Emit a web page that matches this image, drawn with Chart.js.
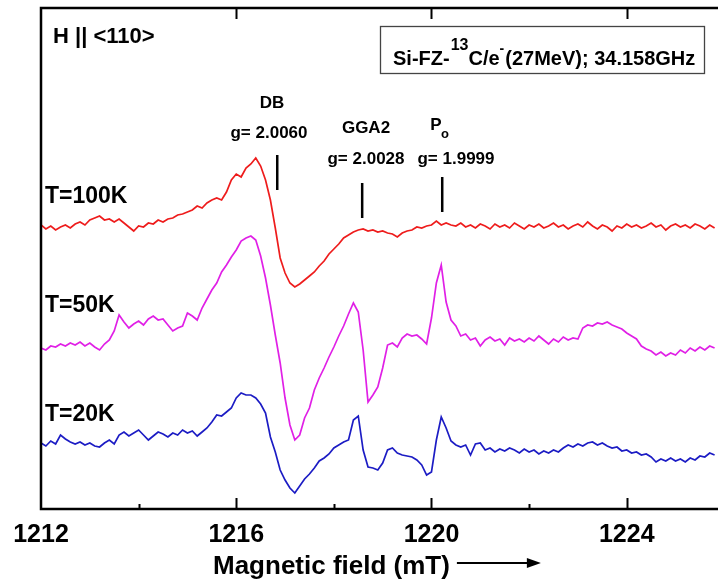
<!DOCTYPE html>
<html>
<head>
<meta charset="utf-8">
<title>EPR spectra Si-FZ-13C</title>
<script src="https://cdn.jsdelivr.net/npm/chart.js@4.4.1/dist/chart.umd.min.js"></script>
<style>
  html, body { margin: 0; padding: 0; background: #fff; }
  #wrap { width: 718px; height: 581px; overflow: hidden; }
</style>
</head>
<body>
<div id="wrap"><canvas id="epr" width="718" height="581"></canvas></div>
<script>
// magnetic field sampling (mT), one reading every 0.1 mT
const fieldStart = 1212;
const fieldStep = 0.1;

// signal (a.u.), each trace already offset vertically
const t100K = [
  284, 280, 283, 279, 282, 284, 281, 285, 287, 284,
  289, 291, 293, 289, 290, 287, 290, 286, 282, 278,
  283, 282, 286, 285, 289, 287, 290, 291, 294, 295,
  297, 299, 303, 301, 306, 309, 311, 309, 317, 329,
  335, 332, 341, 345, 351, 343, 329, 309, 281, 251,
  236, 226, 222, 225, 229, 233, 237, 243, 248, 255,
  260, 265, 271, 274, 277, 279, 280, 278, 279, 277,
  278, 276, 275, 272, 276, 278, 279, 282, 281, 283,
  284, 288, 284, 286, 284, 283, 286, 282, 284, 281,
  285, 283, 280, 285, 282, 284, 281, 286, 283, 280,
  284, 282, 285, 281, 283, 286, 282, 284, 280, 283,
  285, 282, 287, 283, 280, 284, 282, 278, 283, 281,
  285, 282, 284, 281, 283, 286, 282, 284, 279, 283,
  285, 282, 284, 281, 285, 283, 280, 284, 281,
];
const t50K = [
  161, 159, 163, 162, 165, 163, 166, 164, 167, 163,
  166, 162, 159, 165, 169, 178, 194, 187, 181, 185,
  188, 184, 190, 193, 189, 190, 184, 178, 181, 183,
  196, 193, 189, 201, 210, 219, 226, 237, 244, 252,
  259, 268, 271, 273, 269, 253, 231, 204, 174, 146,
  111, 84, 69, 74, 91, 101, 119, 131, 141, 152,
  162, 173, 183, 195, 206, 197, 159, 107, 114, 122,
  141, 164, 166, 162, 171, 175, 173, 174, 170, 165,
  191, 226, 244, 207, 189, 183, 173, 175, 169, 171,
  163, 169, 172, 168, 170, 164, 171, 168, 170, 167,
  171, 168, 173, 169, 165, 170, 167, 172, 169, 171,
  170, 181, 184, 183, 186, 185, 187, 184, 182, 180,
  176, 173, 170, 163, 160, 158, 154, 157, 153, 156,
  154, 159, 156, 161, 158, 162, 159, 163, 161,
];
const t20K = [
  66, 63, 68, 65, 74, 70, 67, 65, 67, 64,
  66, 63, 62, 66, 69, 65, 74, 77, 73, 76,
  79, 74, 69, 73, 77, 75, 72, 76, 74, 79,
  76, 78, 73, 77, 81, 87, 94, 93, 97, 101,
  111, 116, 114, 114, 111, 105, 96, 72, 57, 39,
  29, 21, 16, 23, 30, 35, 41, 48, 51, 55,
  61, 64, 67, 69, 89, 93, 59, 42, 41, 39,
  46, 59, 61, 56, 54, 53, 52, 49, 44, 34,
  37, 69, 92, 81, 68, 64, 62, 64, 54, 65,
  66, 59, 61, 57, 60, 58, 61, 59, 56, 60,
  57, 59, 55, 58, 56, 59, 57, 61, 64, 62,
  65, 63, 66, 67, 64, 66, 63, 61, 62, 58,
  59, 56, 57, 54, 55, 52, 47, 50, 48, 51,
  48, 50, 47, 51, 49, 53, 52, 56, 54,
];

const traceLabels = ['T=100K', 'T=50K', 'T=20K'];
const traceColors = ['#ee1c1c', '#e020e6', '#1c1cc4'];

const majorTicks = [1212, 1216, 1220, 1224];
const minorTicks = [1214, 1218, 1222];

// line positions of the centres: DB, GGA2, Po
const centreFields = [1216.84, 1218.58, 1220.22];

const FONT = '"Liberation Sans", Arial, sans-serif';

function toPoints(values) {
  return values.map((v, i) => ({
    x: Math.round((fieldStart + i * fieldStep) * 10) / 10,
    y: v,
  }));
}

function text(ctx, str, x, y, size, align = 'left', base = 'alphabetic') {
  ctx.font = `bold ${size}px ${FONT}`;
  ctx.textAlign = align;
  ctx.textBaseline = base;
  ctx.fillText(str, x, y);
  return ctx.measureText(str).width;
}

const framePlugin = {
  id: 'frame',
  afterDraw(chart) {
    const { ctx, chartArea: area, scales: { x } } = chart;
    ctx.save();
    ctx.strokeStyle = '#000';
    ctx.fillStyle = '#000';

    // axes box (right side is outside the picture)
    ctx.lineWidth = 2.5;
    ctx.beginPath();
    ctx.moveTo(area.right + 2, area.top);
    ctx.lineTo(area.left, area.top);
    ctx.lineTo(area.left, area.bottom);
    ctx.lineTo(area.right + 2, area.bottom);
    ctx.stroke();

    // inward tick marks
    ctx.lineWidth = 2;
    ctx.beginPath();
    majorTicks.slice(1).forEach((v) => {
      const px = Math.round(x.getPixelForValue(v)) + 0.5;
      ctx.moveTo(px, area.bottom);
      ctx.lineTo(px, area.bottom - 11);
      ctx.moveTo(px, area.top);
      ctx.lineTo(px, area.top + 11);
    });
    minorTicks.forEach((v) => {
      const px = Math.round(x.getPixelForValue(v)) + 0.5;
      ctx.moveTo(px, area.bottom);
      ctx.lineTo(px, area.bottom - 5);
    });
    ctx.stroke();

    // centre markers
    const markerSpans = [[155, 190], [183, 218], [177, 212]];
    ctx.lineWidth = 2.5;
    ctx.beginPath();
    centreFields.forEach((f, i) => {
      const px = x.getPixelForValue(f);
      ctx.moveTo(px, markerSpans[i][0]);
      ctx.lineTo(px, markerSpans[i][1]);
    });
    ctx.stroke();

    // centre labels
    text(ctx, 'DB', 272, 103, 17, 'center', 'middle');
    text(ctx, 'g= 2.0060', 269, 133, 17, 'center', 'middle');
    text(ctx, 'GGA2', 366, 128, 17, 'center', 'middle');
    text(ctx, 'g= 2.0028', 366, 159, 17, 'center', 'middle');
    text(ctx, 'P', 436, 125, 17, 'center', 'middle');
    text(ctx, 'o', 445, 134, 13, 'center', 'middle');
    text(ctx, 'g= 1.9999', 456, 159, 17, 'center', 'middle');

    // orientation and temperatures
    text(ctx, 'H || <110>', 53, 37, 22, 'left', 'middle');
    const tY = [197, 306, 415];
    traceLabels.forEach((t, i) => text(ctx, t, 45, tY[i], 23, 'left', 'middle'));

    // sample box
    ctx.lineWidth = 1.3;
    ctx.strokeStyle = '#444';
    ctx.strokeRect(380.5, 26.5, 324, 47);
    let cx = 393;
    cx += text(ctx, 'Si-FZ-', cx, 65, 20);
    cx += text(ctx, '13', cx + 1, 50, 16) + 1;
    cx += text(ctx, 'C/e', cx, 65, 20);
    cx += text(ctx, '-', cx, 53, 14);
    text(ctx, '(27MeV); 34.158GHz', cx + 1, 65, 20);

    // axis title with arrow
    const tw = text(ctx, 'Magnetic field (mT)', 213, 574, 26);
    const ay = 563;
    const ax0 = 213 + tw + 7;
    ctx.strokeStyle = '#000';
    ctx.lineWidth = 2;
    ctx.beginPath();
    ctx.moveTo(ax0, ay);
    ctx.lineTo(ax0 + 74, ay);
    ctx.stroke();
    ctx.beginPath();
    ctx.moveTo(ax0 + 84, ay);
    ctx.lineTo(ax0 + 70, ay - 5);
    ctx.lineTo(ax0 + 70, ay + 5);
    ctx.closePath();
    ctx.fill();

    ctx.restore();
  },
};

new Chart(document.getElementById('epr'), {
  type: 'line',
  data: {
    datasets: [t100K, t50K, t20K].map((vals, i) => ({
      label: traceLabels[i],
      data: toPoints(vals),
      borderColor: traceColors[i],
      borderWidth: 1.7,
      pointRadius: 0,
      tension: 0,
      fill: false,
    })),
  },
  options: {
    responsive: false,
    animation: false,
    devicePixelRatio: 1,
    layout: { padding: { left: 41, top: 8, right: 0, bottom: 0 } },
    plugins: {
      legend: { display: false },
      tooltip: { enabled: false },
    },
    scales: {
      x: {
        type: 'linear',
        min: 1212,
        max: 1225.87,
        grid: { display: false },
        border: { display: false },
        ticks: {
          color: '#000',
          padding: 3,
          maxRotation: 0,
          font: { family: FONT, size: 25, weight: 'bold' },
          callback: (v) => v,
        },
        afterBuildTicks: (scale) => {
          scale.ticks = majorTicks.map((v) => ({ value: v }));
        },
        afterFit: (scale) => {
          scale.height = 72;
        },
      },
      y: {
        display: false,
        min: 0,
        max: 501,
      },
    },
  },
  plugins: [framePlugin],
});
</script>
</body>
</html>
